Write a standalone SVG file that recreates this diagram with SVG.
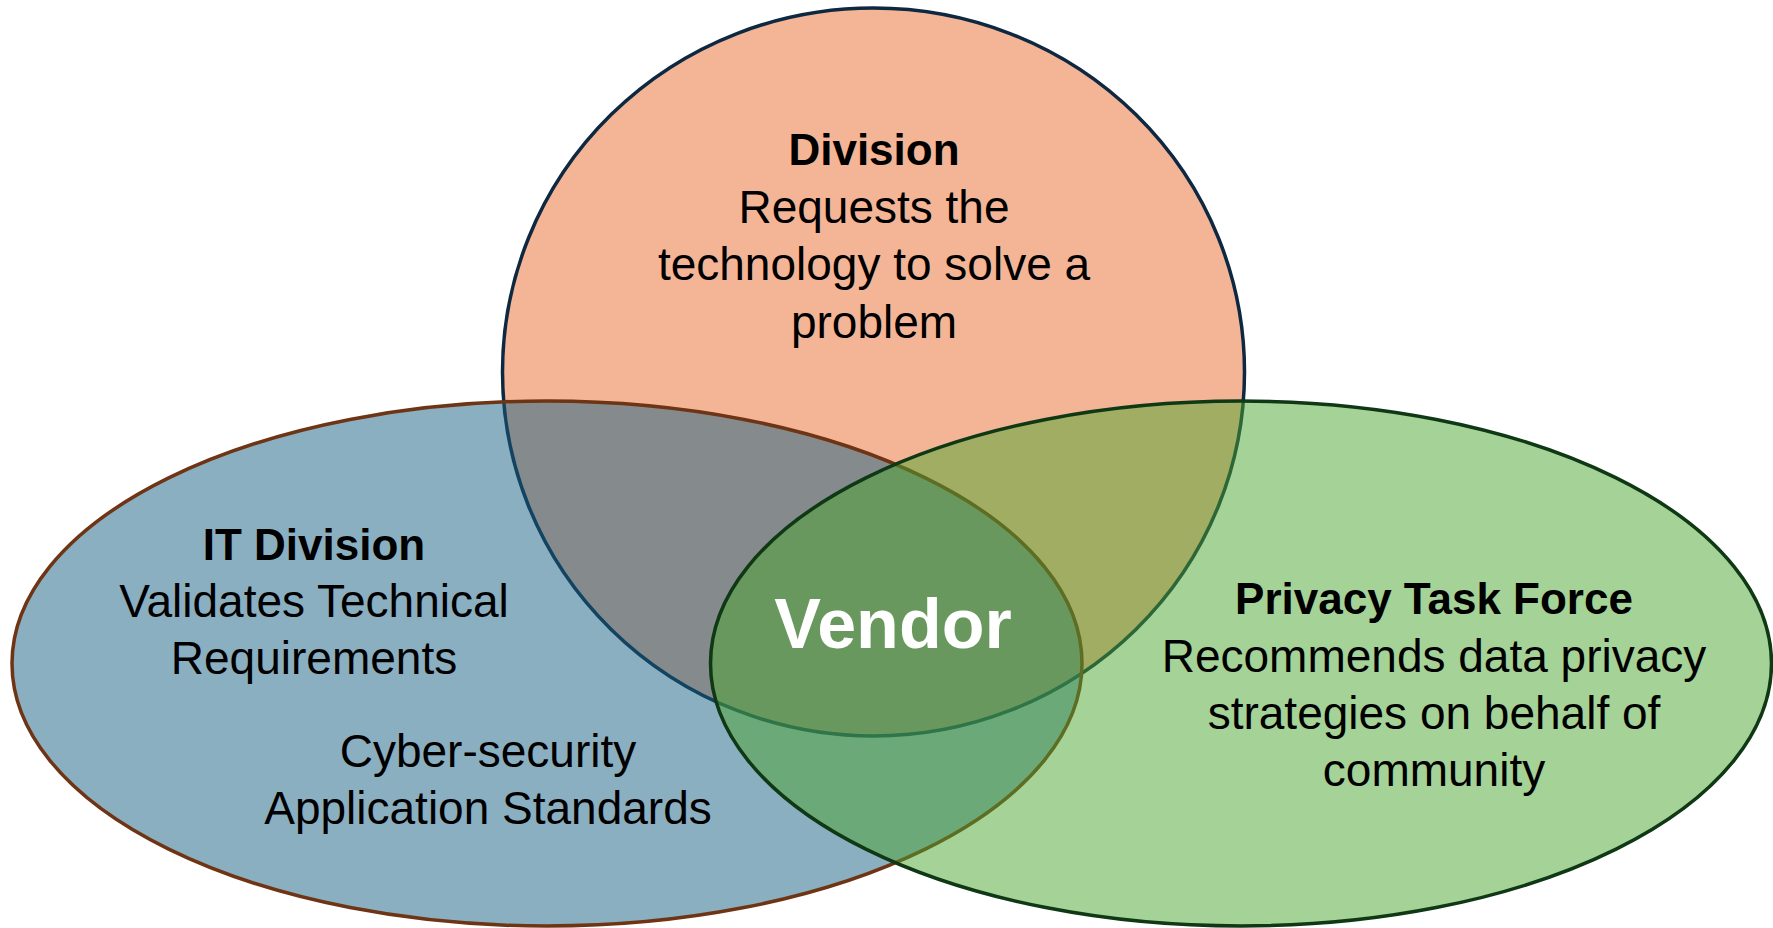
<svg xmlns="http://www.w3.org/2000/svg" width="1773" height="928" viewBox="0 0 1773 928">
<style>
.shape{fill-opacity:0.5;stroke-width:3.5}
.t{font-family:"Liberation Sans",Arial,sans-serif;font-size:46px;fill:#000;text-anchor:middle}
.h{font-family:"Liberation Sans",Arial,sans-serif;font-size:44px;font-weight:bold;fill:#000;text-anchor:middle}
.v{font-family:"Liberation Sans",Arial,sans-serif;font-size:70px;font-weight:bold;fill:#fff;text-anchor:middle}
</style>
<rect width="1773" height="928" fill="#fff"/>
<g id="division">
<ellipse class="shape" cx="873.5" cy="372" rx="371" ry="364" fill="#E96B2D" stroke="#0E2841"/>
</g>
<g id="it-division">
<ellipse class="shape" cx="547" cy="663.5" rx="535" ry="262.5" fill="#156082" stroke="#6E3414"/>
</g>
<g id="privacy-task-force">
<ellipse class="shape" cx="1241" cy="663.5" rx="530.5" ry="262.5" fill="#4BA52F" stroke="#0F3814"/>
</g>
<g id="division-text">
<text class="h" x="874" y="165">Division</text>
<text class="t" x="874" y="222.5">Requests the</text>
<text class="t" x="874" y="280">technology to solve a</text>
<text class="t" x="874" y="337.5">problem</text>
</g>
<g id="it-division-text">
<text class="h" x="314" y="560">IT Division</text>
<text class="t" x="314" y="617">Validates Technical</text>
<text class="t" x="314" y="674">Requirements</text>
<text class="t" x="488" y="767">Cyber-security</text>
<text class="t" x="488" y="824">Application Standards</text>
</g>
<g id="privacy-text">
<text class="h" x="1434" y="614">Privacy Task Force</text>
<text class="t" x="1434" y="672">Recommends data privacy</text>
<text class="t" x="1434" y="729">strategies on behalf of</text>
<text class="t" x="1434" y="786">community</text>
</g>
<g id="vendor">
<text class="v" x="893" y="648">Vendor</text>
</g>
</svg>
